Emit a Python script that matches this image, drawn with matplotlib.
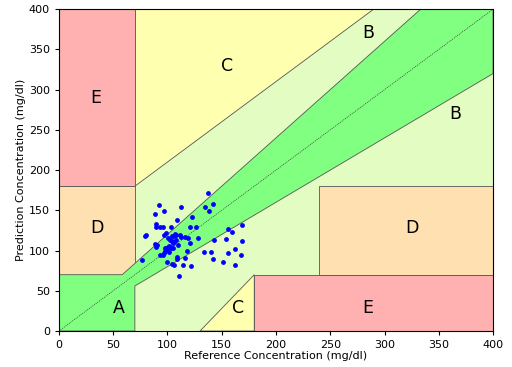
import matplotlib
matplotlib.use("Agg")
import matplotlib.pyplot as plt
from matplotlib.patches import Polygon

# Measured points (reference vs prediction, mg/dl)
ref_values = [76.6, 79.6, 80.5, 88.9, 92.2, 89.2, 89.8, 92.8, 96.0, 96.5,
              88.5, 89.8, 90.7, 92.8, 96.0, 97.0, 97.5, 99.0, 100.0, 100.5,
              101.5, 102.7, 97.2, 99.0, 100.5, 102.0, 103.6, 104.5, 105.8, 106.4,
              108.2, 109.2, 111.3, 112.2, 112.8, 105.0, 99.6, 104.0, 105.8, 108.5,
              109.2, 110.7, 114.0, 116.5, 118.4, 119.0, 120.4, 121.0, 121.4, 123.0,
              126.7, 128.5, 133.4, 135.0, 137.0, 138.4, 140.2, 142.4, 143.3, 142.4,
              151.3, 154.3, 155.6, 155.6, 159.9, 162.0, 162.6, 167.6, 168.5, 168.5,
              104.2, 106.7, 115.9, 105.1, 108.2, 109.7, 98.0, 103.0, 101.0]
pred_values = [88.6, 118.4, 119.7, 146.0, 157.0, 133.0, 129.6, 128.8, 129.6, 149.5,
               108.0, 104.0, 107.0, 94.4, 94.8, 96.5, 102.7, 103.5, 100.6, 104.8,
               106.0, 104.8, 118.8, 121.3, 116.0, 113.0, 129.6, 112.0, 110.6, 118.0,
               119.3, 137.9, 119.3, 116.4, 153.6, 102.7, 85.7, 82.8, 81.6, 92.3,
               89.0, 69.0, 82.0, 91.0, 99.8, 116.0, 108.9, 129.6, 81.2, 142.0,
               129.6, 116.0, 98.5, 154.0, 171.8, 149.5, 98.1, 157.8, 113.5, 89.9,
               85.3, 114.7, 126.3, 96.5, 122.6, 101.9, 82.0, 94.8, 131.7, 111.4,
               118.0, 120.5, 117.0, 109.0, 113.0, 106.8, 100.0, 103.0, 98.0]

# Clarke error grid zones
zone_A = [(0, 0), (0, 70), (58.33, 70), (333.33, 400), (400, 400), (400, 320), (70, 56), (70, 0)]
zone_C_upper = [(70, 180), (290, 400), (70, 400)]
zone_C_lower = [(130, 0), (180, 70), (180, 0)]
zone_D_left = [(0, 70), (70, 70), (70, 180), (0, 180)]
zone_D_right = [(240, 70), (400, 70), (400, 180), (240, 180)]
zone_E_upper = [(0, 180), (70, 180), (70, 400), (0, 400)]
zone_E_lower = [(180, 0), (400, 0), (400, 70), (180, 70)]

zone_labels = ["A", "B", "B", "C", "C", "D", "D", "E", "E"]
zone_label_x = [55, 285, 365, 155, 165, 35, 325, 34, 285]
zone_label_y = [29, 370, 270, 330, 29, 128, 128, 289, 29]

col_A = "#80ff80"
col_B = "#e2fcc2"
col_C = "#ffffb0"
col_D = "#ffe0b0"
col_E = "#ffb0b0"

fig = plt.figure(figsize=(5.12, 3.67), dpi=100)
ax = fig.add_axes([0.115, 0.098, 0.848, 0.877])
ax.set_facecolor(col_B)

for poly, col in [(zone_C_upper, col_C), (zone_C_lower, col_C),
                  (zone_D_left, col_D), (zone_D_right, col_D),
                  (zone_E_upper, col_E), (zone_E_lower, col_E), (zone_A, col_A)]:
    ax.add_patch(Polygon(poly, closed=True, facecolor=col, edgecolor="#555555", linewidth=0.6))

ax.plot([0, 400], [0, 400], linestyle=(0, (1.5, 1.5)), color="#333333", linewidth=0.5)

ax.scatter(ref_values, pred_values, s=6, color="blue", zorder=3)

for t, x, y in zip(zone_labels, zone_label_x, zone_label_y):
    ax.text(x, y, t, fontsize=12.5, ha="center", va="center")

ax.set_xlim(0, 400)
ax.set_ylim(0, 400)
ax.set_xticks(range(0, 401, 50))
ax.set_yticks(range(0, 401, 50))
ax.tick_params(labelsize=8, length=3)
ax.set_xlabel("Reference Concentration (mg/dl)", fontsize=8, labelpad=1)
ax.set_ylabel("Prediction Concentration (mg/dl)", fontsize=8, labelpad=2)

fig.savefig("out.png", dpi=100)
